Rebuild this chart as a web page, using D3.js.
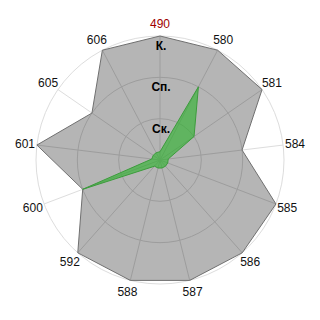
<!DOCTYPE html>
<html><head><meta charset="utf-8">
<script src="https://cdn.jsdelivr.net/npm/d3@7/dist/d3.min.js"></script>
<style>html,body{margin:0;padding:0;background:#fff;}svg{display:block;}</style>
</head><body>
<script>
const categories = ["490","580","581","584","585","586","587","588","592","600","601","605","606"];
const seriesGrey = [3,3,3,2,3,3,3,3,3,2,3,2,3];
const seriesGreen = [0.2,2,1,0.2,0.2,0.2,0.2,0.2,0.2,2,0.2,0.2,0.2];
const levels = [1,2,3];
const levelLabels = ["Ск.","Сп.","К."];
const highlightCategory = "490";

const W = 320, H = 320, cx = 160, cy = 160, R = 124;
const svg = d3.select("body").append("svg").attr("width", W).attr("height", H);
const g = svg.append("g").attr("transform", `translate(${cx},${cy})`);

const angle = d3.scalePoint().domain(categories).range([0, 2*Math.PI*(categories.length-1)/categories.length]);
const r = d3.scaleLinear().domain([0,3]).range([0,R]);
const pt = (c, v) => [Math.sin(angle(c))*r(v), -Math.cos(angle(c))*r(v)];

// grid circles
g.selectAll("circle.grid").data(levels).join("circle")
  .attr("r", d => r(d)).attr("fill","none").attr("stroke","#dddddd").attr("stroke-width",1);
// spokes
g.selectAll("line.spoke").data(categories).join("line")
  .attr("x1",0).attr("y1",0)
  .attr("x2", d => pt(d,3)[0]).attr("y2", d => pt(d,3)[1])
  .attr("stroke","#dddddd").attr("stroke-width",1);

const line = d3.lineRadial().angle((d,i)=>angle(categories[i])).radius(d=>r(d)).curve(d3.curveLinearClosed);

g.append("path").datum(seriesGrey).attr("d", line)
  .attr("fill","rgba(0,0,0,0.29)").attr("stroke","#707070").attr("stroke-width",1);
g.append("path").datum(seriesGreen).attr("d", line)
  .attr("fill","rgba(40,180,40,0.6)").attr("stroke","#3c9c3c").attr("stroke-width",1);

// level labels
g.selectAll("text.lvl").data(levels).join("text")
  .attr("x", 1).attr("y", d => -r(d) + 14)
  .attr("text-anchor","middle")
  .attr("font-family","Liberation Sans, Arial, sans-serif")
  .attr("font-size", 12).attr("font-weight","bold").attr("fill","#000")
  .text((d,i) => levelLabels[i]);

// category labels
g.selectAll("text.cat").data(categories).join("text")
  .attr("x", d => Math.sin(angle(d))*(R+12))
  .attr("y", d => -Math.cos(angle(d))*(R+12))
  .attr("dy","0.35em")
  .attr("text-anchor","middle")
  .attr("font-family","Liberation Sans, Arial, sans-serif")
  .attr("font-size", 12)
  .attr("fill", d => d === highlightCategory ? "#a00000" : "#111")
  .text(d => d);
</script>
</body></html>
